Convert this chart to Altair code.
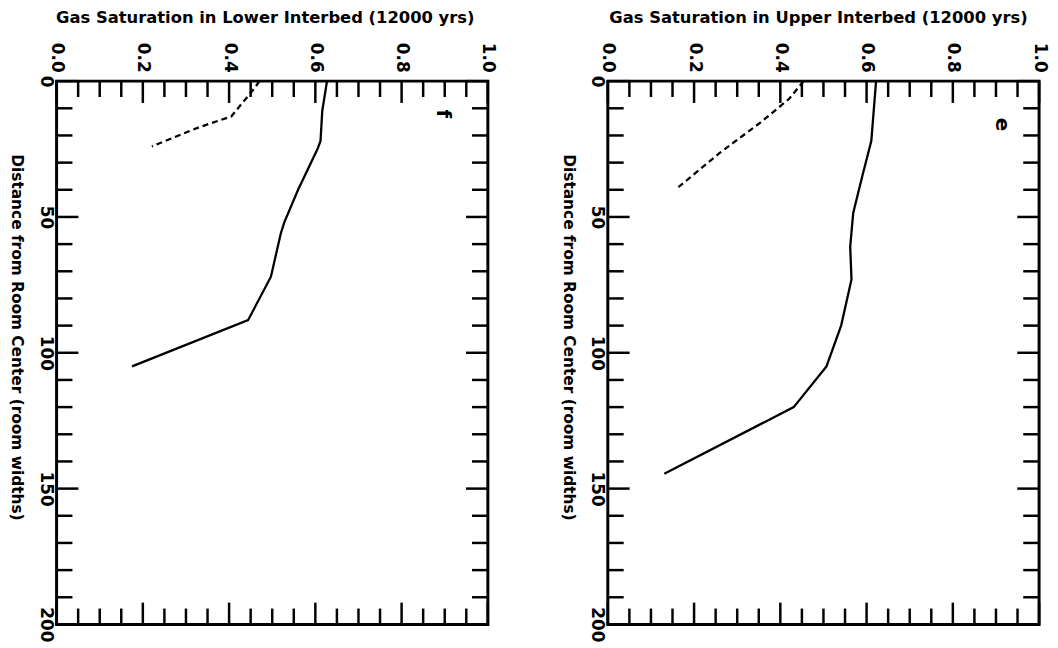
import altair as alt
import pandas as pd

W, H = 435, 548
FONT = "DejaVu Sans"

# Lower interbed (panel f)
lower_solid_sat = [0.627, 0.616, 0.612, 0.605, 0.560, 0.528, 0.520, 0.497, 0.444, 0.175]
lower_solid_dist = [0, 11, 22, 25, 40, 52, 56, 72, 88, 105]
lower_dash_sat = [0.470, 0.462, 0.405, 0.330, 0.221]
lower_dash_dist = [0, 2, 13, 17, 24]

# Upper interbed (panel e)
upper_solid_sat = [0.622, 0.611, 0.590, 0.569, 0.562, 0.565, 0.541, 0.507, 0.431, 0.131]
upper_solid_dist = [0, 22, 35, 48.5, 61, 73, 90, 105, 120, 144.5]
upper_dash_sat = [0.454, 0.420, 0.350, 0.258, 0.161]
upper_dash_dist = [0, 6.6, 15.7, 26.6, 39.4]

x_major = [0.0, 0.2, 0.4, 0.6, 0.8, 1.0]
x_minor = [0.05, 0.10, 0.15, 0.25, 0.30, 0.35, 0.45, 0.50, 0.55,
           0.65, 0.70, 0.75, 0.85, 0.90, 0.95]
y_major = [0, 50, 100, 150, 200]
y_minor = [10, 20, 30, 40, 60, 70, 80, 90, 110, 120, 130, 140,
           160, 170, 180, 190]

MAJ, MIN = 22, 16


def panel(title, s_sat, s_dist, d_sat, d_dist, label, l_sat, l_dist, title_x):
    xs = alt.Scale(domain=[0, 1], nice=False, zero=False)
    ys = alt.Scale(domain=[0, 200], nice=False, reverse=True)
    xaxis = alt.Axis(orient="top", values=x_major, format=".1f", labelAngle=90,
                     labelAlign="right", labelBaseline="middle", labelPadding=9,
                     ticks=False, domain=False, grid=False, title=title,
                     titleX=title_x, titleY=-64, titleAngle=0, titleAlign="center",
                     titleBaseline="middle")
    yaxis = alt.Axis(orient="left", values=y_major, format="d", labelAngle=90,
                     labelAlign="center", labelBaseline="top", labelPadding=3,
                     ticks=False, domain=False, grid=False,
                     title="Distance from Room Center (room widths)", titleAngle=90,
                     titleX=-40, titleY=258, titleAlign="center",
                     titleBaseline="middle", titleFontSize=15.5)

    def X(f):
        return alt.X(f, scale=xs, axis=xaxis)

    def Y(f):
        return alt.Y(f, scale=ys, axis=yaxis)

    df_s = pd.DataFrame({"sat": s_sat, "dist": s_dist})
    df_d = pd.DataFrame({"sat": d_sat, "dist": d_dist})
    solid = alt.Chart(df_s).mark_line(color="black", strokeWidth=2.3).encode(
        x=X("sat:Q"), y=Y("dist:Q"), order=alt.Order("dist:Q"))
    dashed = alt.Chart(df_d).mark_line(color="black", strokeWidth=2.3,
                                       strokeDash=[6, 4]).encode(
        x=X("sat:Q"), y=Y("dist:Q"), order=alt.Order("dist:Q"))

    def xticks(vals, y0, y1):
        return alt.Chart(pd.DataFrame({"sat": vals})).mark_rule(
            color="black", strokeWidth=2.5).encode(
            x=X("sat:Q"), y=alt.value(y0), y2=alt.value(y1))

    def yticks(vals, x0, x1):
        return alt.Chart(pd.DataFrame({"dist": vals})).mark_rule(
            color="black", strokeWidth=2.5).encode(
            y=Y("dist:Q"), x=alt.value(x0), x2=alt.value(x1))

    ticks = [
        xticks(x_major, 0, MAJ), xticks(x_minor, 0, MIN),
        xticks(x_major, H, H - MAJ), xticks(x_minor, H, H - MIN),
        yticks(y_major, 0, MAJ), yticks(y_minor, 0, MIN),
        yticks(y_major, W, W - MAJ), yticks(y_minor, W, W - MIN),
    ]
    lab = alt.Chart(pd.DataFrame({"sat": [l_sat], "dist": [l_dist], "t": [label]})).mark_text(
        angle=90, fontSize=20, fontWeight="bold", font=FONT, color="black").encode(
        x=X("sat:Q"), y=Y("dist:Q"), text="t:N")
    return alt.layer(solid, dashed, *ticks, lab).properties(width=W, height=H)


left = panel("Gas Saturation in Lower Interbed (12000 yrs)",
             lower_solid_sat, lower_solid_dist, lower_dash_sat, lower_dash_dist,
             "f", 0.897, 12, 210)
right = panel("Gas Saturation in Upper Interbed (12000 yrs)",
              upper_solid_sat, upper_solid_dist, upper_dash_sat, upper_dash_dist,
              "e", 0.915, 16, 212)

chart = alt.hconcat(left, right, spacing=60).configure_view(
    stroke="black", strokeWidth=3
).configure_axis(
    labelFont=FONT, labelFontSize=17, labelFontWeight="bold", labelColor="black",
    titleFont=FONT, titleFontSize=16.5, titleFontWeight="bold", titleColor="black"
).properties(
    background="white", padding={"left": -1, "top": -3, "right": 0, "bottom": 0}
)

chart.save("out.html", embed_options={"renderer": "svg", "actions": False})
